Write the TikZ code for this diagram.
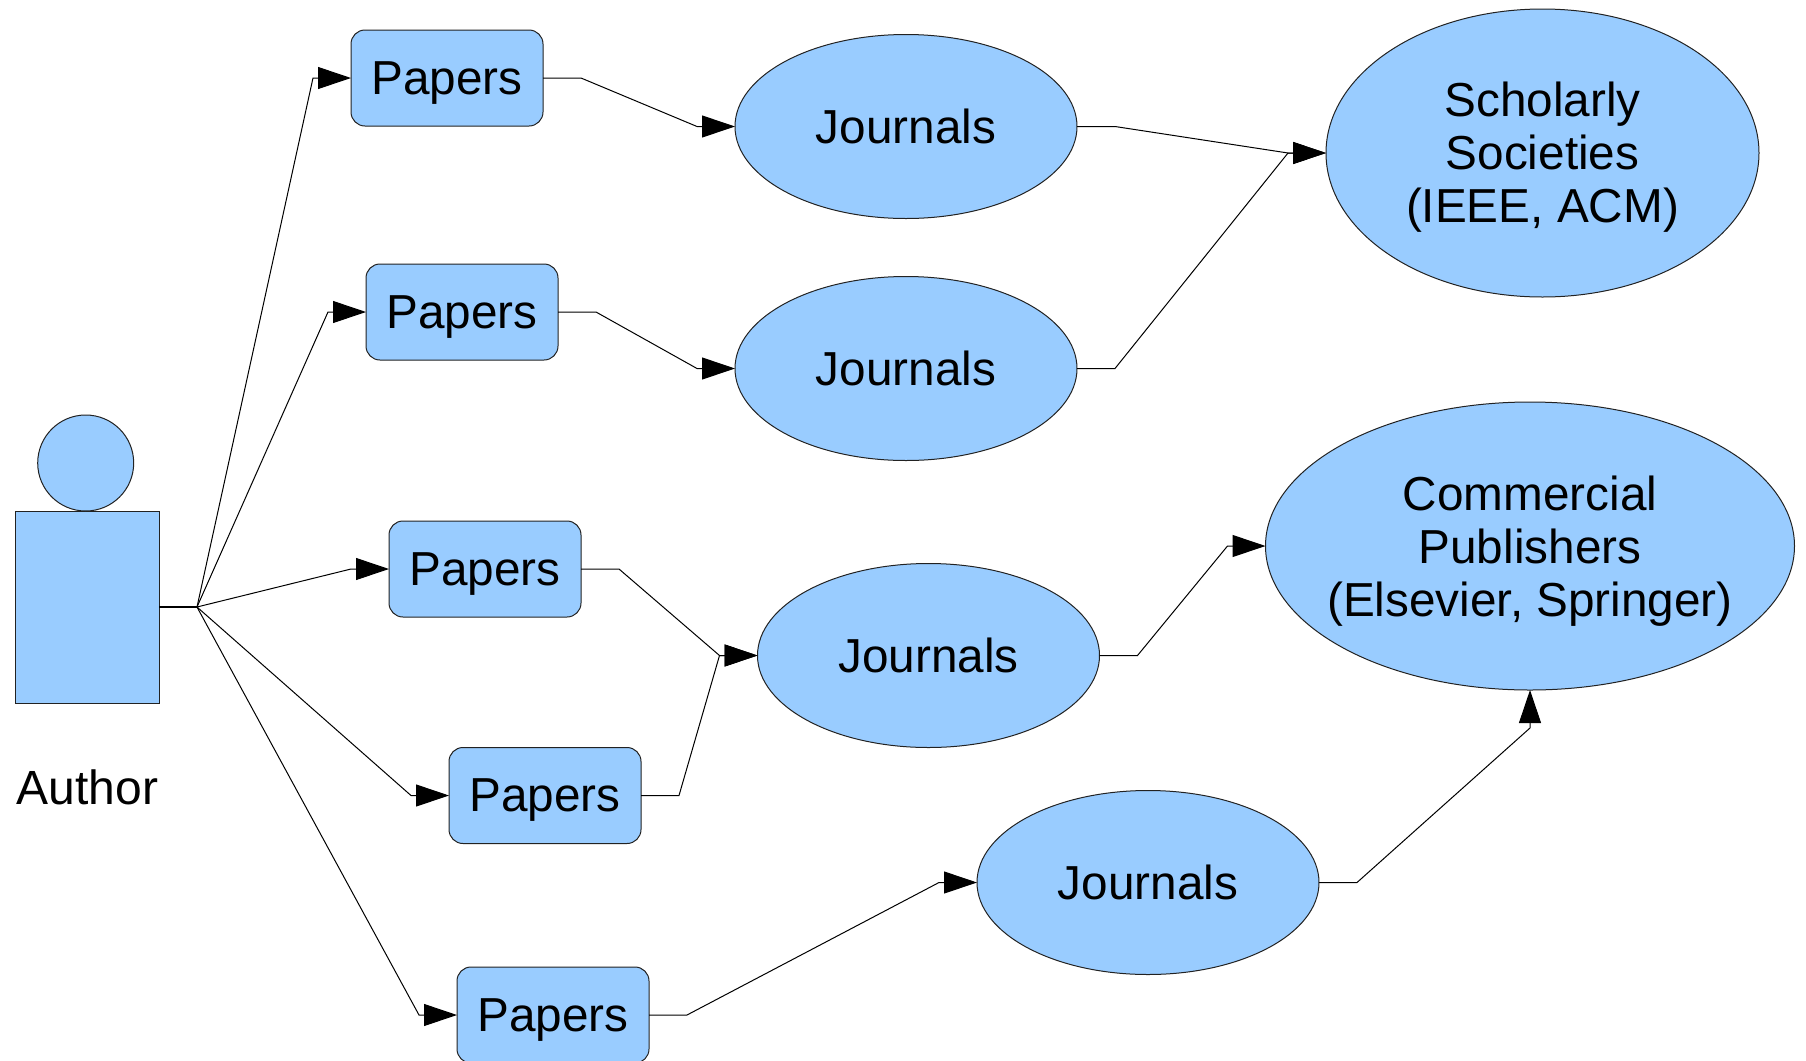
\documentclass[tikz,border=0pt]{standalone}
\usepackage{fontspec}
\setmainfont{Liberation Sans}
\usetikzlibrary{shapes.geometric,arrows.meta,calc}
\definecolor{shapeblue}{HTML}{99CCFF}
\definecolor{edge}{HTML}{222222}
\tikzset{
  base/.style={draw=edge,fill=shapeblue,line width=0.5pt,inner sep=0pt,outer sep=0pt,align=center,text=black,
    font=\fontsize{23.85pt}{26.5pt}\selectfont},
  paperbox/.style={base,shape=rectangle,rounded corners=7pt,minimum width=96pt,minimum height=48pt,text depth=0pt},
  journal/.style={base,shape=ellipse,minimum width=171pt,minimum height=92pt},
  society/.style={base,shape=ellipse,minimum width=216.5pt,minimum height=144pt,text depth=0.8pt},
  publisher/.style={base,shape=ellipse,minimum width=264.5pt,minimum height=144pt,text depth=0.2pt},
  head/.style={base,shape=circle,minimum size=48pt},
  body/.style={base,shape=rectangle,minimum width=72pt,minimum height=96pt},
  caption/.style={inner sep=0pt,font=\fontsize{24pt}{26.5pt}\selectfont},
  conn/.style={draw=black,line width=0.5pt,-{Triangle[length=16.5pt,width=11pt,fill=black]}},
  plain/.style={draw=black,line width=1pt}
}
\newcommand{\fromauthor}[1]{\draw[conn] (hub) -- ($(#1.west)+(-38,0)$) -- (#1.west);}
\newcommand{\stepconn}[2]{\draw[conn] (#1.east) -- ++(38,0) -- ($(#2.west)+(-38,0)$) -- (#2.west);}
\newcommand{\zw}[1]{\makebox[0pt]{#1}}
\begin{document}
\begin{tikzpicture}[x=0.5pt,y=-0.5pt]
\clip (0,0) rectangle (1806,1061);
\node[body] (body) at (87,607) {};
\node[head] (head) at (85.7,463) {};
\node[caption] (authorlabel) at (87.5,787.5) {Author};
\node[paperbox] (p1) at (447,78) {Papers};
\node[paperbox] (p2) at (462,312) {Papers};
\node[paperbox] (p3) at (485,569) {Papers};
\node[paperbox] (p4) at (545,795.5) {Papers};
\node[paperbox] (p5) at (553,1015) {Papers};
\node[journal] (j1) at (906,126.5) {Journals};
\node[journal] (j2) at (906,368.5) {Journals};
\node[journal] (j3) at (928.5,655.5) {Journals};
\node[journal] (j4) at (1148,882.5) {Journals};
\node[society] (s) at (1542.5,153) {\zw{Scholarly}\\\zw{Societies}\\\zw{(IEEE, ACM)}};
\node[publisher] (c) at (1530,546) {\zw{Commercial}\\\zw{Publishers}\\\zw{(Elsevier, Springer)}};
\coordinate (hub) at ($(body.east)+(38,0)$);
\draw[plain] (body.east) -- (hub);
\fromauthor{p1}
\fromauthor{p2}
\fromauthor{p3}
\fromauthor{p4}
\fromauthor{p5}
\stepconn{p1}{j1}
\stepconn{p2}{j2}
\stepconn{p3}{j3}
\stepconn{p4}{j3}
\stepconn{p5}{j4}
\stepconn{j1}{s}
\stepconn{j2}{s}
\stepconn{j3}{c}
\draw[conn] (j4.east) -- ++(38,0) -- ($(c.south)+(0,38)$) -- (c.south);
\end{tikzpicture}
\end{document}
